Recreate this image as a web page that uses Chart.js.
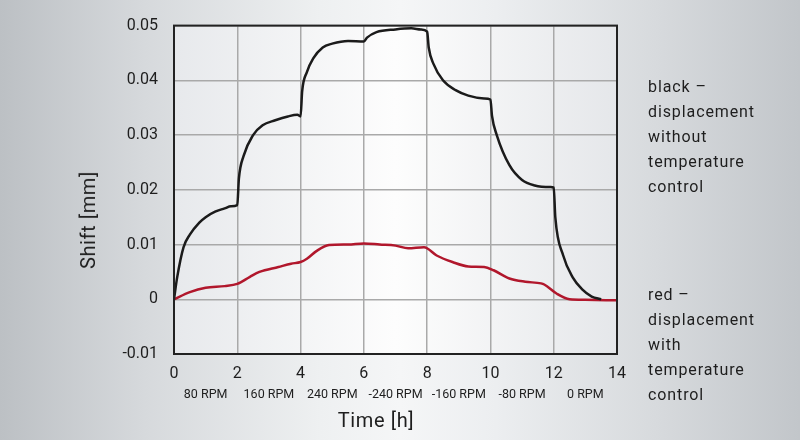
<!DOCTYPE html>
<html>
<head>
<meta charset="utf-8">
<script src="https://cdn.jsdelivr.net/npm/chart.js@4/dist/chart.umd.min.js"></script>
<style>
  html, body { margin:0; padding:0; width:800px; height:440px; overflow:hidden; }
  body {
    background: linear-gradient(to right, #bcc0c4 0%, #d6d9dc 18%, #eef0f1 40%, #f5f6f7 50%, #eceef0 62%, #d7dadd 82%, #c2c6ca 100%);
    font-family: Roboto, "DejaVu Sans", sans-serif; color:#222;
  }
  #wrap { position:absolute; left:0; top:0; width:800px; height:440px; }
  .note { position:absolute; left:648px; font-size:16px; line-height:25px; letter-spacing:0.9px; color:#1e1e1e; }
  #ytitle { position:absolute; left:88px; top:220px; transform: translate(-50%,-50%) rotate(-90deg); font-size:20px; letter-spacing:0.6px; white-space:nowrap; color:#1e1e1e; }
  #xtitle { position:absolute; left:376px; top:420px; transform: translate(-50%,-50%); font-size:20px; letter-spacing:0.6px; white-space:nowrap; color:#1e1e1e; }
</style>
</head>
<body>
<div id="wrap"><canvas id="c" width="800" height="440"></canvas></div>
<div id="ytitle">Shift [mm]</div>
<div id="xtitle">Time [h]</div>
<div class="note" style="top:74px">black –<br>displacement<br>without<br>temperature<br>control</div>
<div class="note" style="top:282px">red –<br>displacement<br>with<br>temperature<br>control</div>
<script>
// ---- data ----
const blackTime  = [0, 0.1, 0.3, 0.5, 0.8, 1.0, 1.3, 1.6, 1.8, 2.0, 2.05, 2.2, 2.5, 2.8, 3.2, 3.6, 3.9, 4.0, 4.05, 4.2, 4.4, 4.7, 5.0, 5.5, 6.0, 6.1, 6.4, 7.0, 7.5, 7.8, 8.0, 8.05, 8.2, 8.5, 8.9, 9.3, 9.8, 10.0, 10.05, 10.2, 10.6, 11.0, 11.4, 11.9, 12.0, 12.05, 12.3, 12.6, 12.9, 13.2, 13.5];
const blackShift = [0, 0.0040, 0.0095, 0.0118, 0.0140, 0.0150, 0.0160, 0.0166, 0.0170, 0.0172, 0.0220, 0.0262, 0.0300, 0.0318, 0.0327, 0.0334, 0.0337, 0.0334, 0.0380, 0.0415, 0.0440, 0.0460, 0.0467, 0.0472, 0.0471, 0.0478, 0.0488, 0.0493, 0.0495, 0.0493, 0.0489, 0.0460, 0.0430, 0.0400, 0.0382, 0.0372, 0.0367, 0.0365, 0.0335, 0.0300, 0.0245, 0.0218, 0.0208, 0.0205, 0.0204, 0.0150, 0.0080, 0.0040, 0.0018, 0.0005, 0.0];
const redTime    = [0, 0.5, 1.0, 1.6, 2.0, 2.4, 2.7, 3.3, 3.7, 4.0, 4.2, 4.5, 4.9, 5.5, 6.0, 6.5, 7.0, 7.4, 7.9, 8.3, 8.8, 9.3, 9.8, 10.1, 10.6, 11.1, 11.6, 11.7, 12.1, 12.5, 13.0, 14.0];
const redShift   = [0, 0.0013, 0.0021, 0.0024, 0.0028, 0.0041, 0.0050, 0.0059, 0.0065, 0.0068, 0.0074, 0.0088, 0.0099, 0.0100, 0.0102, 0.0100, 0.0098, 0.0093, 0.0095, 0.0080, 0.0068, 0.0060, 0.0059, 0.0053, 0.0038, 0.0032, 0.0029, 0.0027, 0.0010, 0.0, -0.0001, -0.0002];
const xTicks     = [0, 2, 4, 6, 8, 10, 12, 14];
const yTicks     = [-0.01, 0, 0.01, 0.02, 0.03, 0.04, 0.05];
const rpmPos     = [1, 3, 5, 7, 9, 11, 13];
const rpmLabels  = ['80 RPM', '160 RPM', '240 RPM', '-240 RPM', '-160 RPM', '-80 RPM', '0 RPM'];

const toPts = (xs, ys) => xs.map((x, i) => ({ x: x, y: ys[i] }));

const areaPlugin = {
  id: 'area',
  beforeDraw(chart) {
    const { ctx, chartArea: a } = chart;
    const g = ctx.createLinearGradient(a.left, 0, a.right, 0);
    g.addColorStop(0, '#e7e9ec');
    g.addColorStop(0.5, '#fdfdfd');
    g.addColorStop(1, '#e5e7ea');
    ctx.save();
    ctx.fillStyle = g;
    ctx.fillRect(a.left, a.top, a.right - a.left, a.bottom - a.top);
    ctx.restore();
  },
  afterDatasetsDraw(chart) {
    const { ctx, chartArea: a } = chart;
    ctx.save();
    ctx.strokeStyle = '#222';
    ctx.lineWidth = 2;
    ctx.strokeRect(a.left, a.top, a.right - a.left, a.bottom - a.top);
    ctx.restore();
  }
};

const tickFont = { family: 'Roboto, "DejaVu Sans", sans-serif', size: 16 };

new Chart(document.getElementById('c'), {
  type: 'line',
  data: {
    datasets: [
      { label: 'with temperature control', data: toPts(redTime, redShift), borderColor: '#b1172c', borderWidth: 2.5, pointRadius: 0, tension: 0.3, cubicInterpolationMode: 'monotone', order: 2 },
      { label: 'without temperature control', data: toPts(blackTime, blackShift), borderColor: '#1b1b1b', borderWidth: 2.5, pointRadius: 0, cubicInterpolationMode: 'monotone', order: 1 }
    ]
  },
  options: {
    responsive: false,
    animation: false,
    devicePixelRatio: 1,
    layout: { padding: { left: 0, top: 24, right: 183, bottom: 16 } },
    plugins: { legend: { display: false }, tooltip: { enabled: false } },
    scales: {
      x: {
        type: 'linear', position: 'bottom', min: 0, max: 14, weight: 0,
        afterBuildTicks: s => { s.ticks = xTicks.map(v => ({ value: v })); },
        afterFit: s => { s.height = 30; },
        ticks: { color: '#1e1e1e', font: tickFont, padding: 10, maxRotation: 0, autoSkip: false },
        grid: { color: '#a9a9a9', lineWidth: 1.5, drawTicks: false },
        border: { display: false }
      },
      x2: {
        type: 'linear', position: 'bottom', min: 0, max: 14, weight: 1,
        afterBuildTicks: s => { s.ticks = rpmPos.map(v => ({ value: v })); },
        afterFit: s => { s.height = 40; },
        ticks: { color: '#1e1e1e', font: { family: tickFont.family, size: 12.5 }, padding: 3, maxRotation: 0, autoSkip: false,
                 callback: (v) => rpmLabels[rpmPos.indexOf(v)] },
        grid: { display: false, drawTicks: false },
        border: { display: false }
      },
      y: {
        type: 'linear', min: -0.01, max: 0.05,
        afterBuildTicks: s => { s.ticks = yTicks.map(v => ({ value: v })); },
        afterFit: s => { s.width = 174; },
        ticks: { color: '#1e1e1e', font: tickFont, padding: 16,
                 callback: v => (Math.abs(v) < 1e-9 ? '0' : v.toFixed(2)) },
        grid: { color: '#a9a9a9', lineWidth: 1.5, drawTicks: false },
        border: { display: false }
      }
    }
  },
  plugins: [areaPlugin]
});
</script>
</body>
</html>
